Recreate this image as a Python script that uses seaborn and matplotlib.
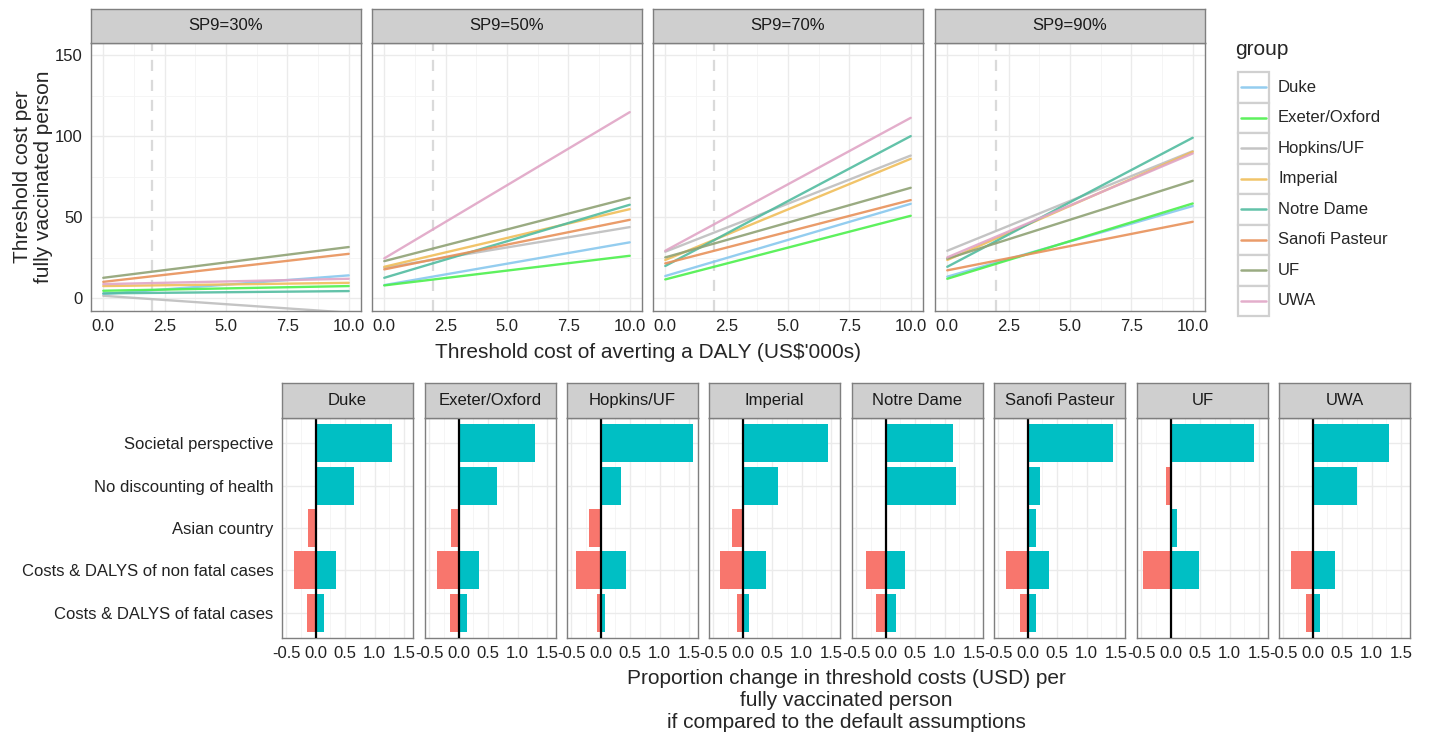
import numpy as np
import pandas as pd
import seaborn as sns
import matplotlib.pyplot as plt
from matplotlib.patches import Rectangle

# ---- data ----
groups = ["Duke", "Exeter/Oxford", "Hopkins/UF", "Imperial",
          "Notre Dame", "Sanofi Pasteur", "UF", "UWA"]
group_colors = ["#88C8EE", "#4CF04C", "#BEBEBE", "#F0BE5A",
                "#52BCA0", "#E8915A", "#8FA275", "#E0A5C6"]

sp9_labels = ["SP9=30%", "SP9=50%", "SP9=70%", "SP9=90%"]
daly_x = [0, 10]   # threshold cost of averting a DALY (US$'000s)

# threshold cost per fully vaccinated person at x = 0 and x = 10, in group order
sp30_start = [2.5, 4.5, 1.4, 7.4, 2.9, 10.0, 12.5, 8.6]
sp30_end = [14.0, 7.4, -9.0, 9.4, 4.3, 27.3, 31.5, 11.9]
sp50_start = [8.0, 7.8, 18.7, 19.3, 12.5, 17.7, 22.8, 24.5]
sp50_end = [34.4, 26.1, 43.8, 54.9, 57.6, 48.3, 61.9, 114.8]
sp70_start = [13.6, 11.5, 28.6, 23.5, 19.8, 21.4, 25.1, 29.2]
sp70_end = [58.2, 50.8, 88.0, 86.0, 100.0, 60.5, 68.1, 111.3]
sp90_start = [13.2, 11.9, 29.2, 23.5, 19.3, 17.1, 24.3, 25.1]
sp90_end = [56.8, 58.4, 90.7, 90.3, 99.0, 47.1, 72.4, 89.3]

scenarios = ["Societal perspective", "No discounting of health", "Asian country",
             "Costs & DALYS of non fatal cases", "Costs & DALYS of fatal cases"]
nan = np.nan
# proportion change (lower / upper bound) per scenario, in scenario order
duke_low = [nan, nan, -0.13, -0.36, -0.15]
duke_high = [1.30, 0.655, nan, 0.35, 0.14]
exeter_low = [nan, nan, -0.13, -0.36, -0.15]
exeter_high = [1.30, 0.645, nan, 0.345, 0.14]
hopkins_low = [nan, nan, -0.20, -0.425, -0.07]
hopkins_high = [1.56, 0.35, nan, 0.425, 0.075]
imperial_low = [nan, nan, -0.18, -0.39, -0.095]
imperial_high = [1.445, 0.60, nan, 0.39, 0.11]
notre_low = [nan, nan, nan, -0.325, -0.17]
notre_high = [1.15, 1.19, nan, 0.33, 0.17]
sanofi_low = [nan, nan, nan, -0.36, -0.13]
sanofi_high = [1.445, 0.215, 0.145, 0.37, 0.135]
uf_low = [nan, -0.075, nan, -0.475, nan]
uf_high = [1.42, nan, 0.11, 0.48, nan]
uwa_low = [nan, nan, nan, -0.37, -0.12]
uwa_high = [1.29, 0.75, nan, 0.375, 0.13]

top_start = [sp30_start, sp50_start, sp70_start, sp90_start]
top_end = [sp30_end, sp50_end, sp70_end, sp90_end]
bar_low = [duke_low, exeter_low, hopkins_low, imperial_low,
           notre_low, sanofi_low, uf_low, uwa_low]
bar_high = [duke_high, exeter_high, hopkins_high, imperial_high,
            notre_high, sanofi_high, uf_high, uwa_high]

# ---- style ----
sns.set_style("white")
plt.rcParams['font.family'] = ['Liberation Sans', 'DejaVu Sans']
plt.rcParams['axes.linewidth'] = 1.0

W, H = 1429, 736
fig = plt.figure(figsize=(W / 100, H / 100), dpi=100)


def px_rect(x0, y0, x1, y1):
    return [x0 / W, 1 - y1 / H, (x1 - x0) / W, (y1 - y0) / H]


border = "#7f7f7f"
tick_col = "#333333"


def add_strip(x0, x1, y0, y1, label):
    sax = fig.add_axes(px_rect(x0, y0, x1, y1))
    sax.set_facecolor("#CFCFCF")
    sax.set_xticks([])
    sax.set_yticks([])
    for s in sax.spines.values():
        s.set_color(border)
        s.set_linewidth(1.0)
    sax.text(0.5, 0.5, label, ha="center", va="center", fontsize=12,
             color="#1a1a1a", transform=sax.transAxes)


def style_panel(ax):
    ax.set_facecolor("white")
    for s in ax.spines.values():
        s.set_color(border)
        s.set_linewidth(1.0)
        s.set_visible(True)
    ax.grid(which="major", color="#EBEBEB", linewidth=1.0)
    ax.grid(which="minor", color="#F4F4F4", linewidth=0.6)
    ax.set_axisbelow(True)
    ax.tick_params(which="major", direction="out", length=4, width=1.2,
                   color=tick_col, labelsize=12, labelcolor="#222222", pad=2)
    ax.tick_params(which="minor", length=0)


# ---- top row: threshold cost lines ----
top_lefts = [91, 372, 653, 935]
for i, label in enumerate(sp9_labels):
    x0 = top_lefts[i]
    ax = fig.add_axes(px_rect(x0, 43, x0 + 270, 311))
    rows = []
    for g, s, e in zip(groups, top_start[i], top_end[i]):
        rows.append({"group": g, "daly": daly_x[0], "cost": s})
        rows.append({"group": g, "daly": daly_x[1], "cost": e})
    d = pd.DataFrame(rows)
    ax.axvline(2, color="#DADADA", linestyle=(0, (5, 4)), linewidth=1.6, zorder=1)
    sns.lineplot(data=d, x="daly", y="cost", hue="group", hue_order=groups,
                 palette=group_colors, linewidth=1.7, alpha=0.9,
                 legend=False, ax=ax)
    ax.set_xlim(-0.5, 10.5)
    ax.set_ylim(-8, 157.5)
    ax.set_xticks([0, 2.5, 5, 7.5, 10])
    ax.set_xticklabels(["0.0", "2.5", "5.0", "7.5", "10.0"])
    ax.set_xticks([1.25, 3.75, 6.25, 8.75], minor=True)
    ax.set_yticks([0, 50, 100, 150])
    ax.set_yticks([25, 75, 125], minor=True)
    style_panel(ax)
    if i == 0:
        ax.set_yticklabels(["0", "50", "100", "150"])
    else:
        ax.set_yticklabels([])
        ax.tick_params(axis="y", which="major", length=0)
    ax.set_xlabel("")
    ax.set_ylabel("")
    add_strip(x0, x0 + 270, 9, 43, label)

fig.text(33 / W, 1 - 177 / H, "Threshold cost per\nfully vaccinated person",
         rotation=90, ha="center", va="center", fontsize=15, linespacing=1.1)
fig.text(648 / W, 1 - 352 / H, "Threshold cost of averting a DALY (US\\$'000s)",
         ha="center", va="center", fontsize=15)

# ---- legend ----
lax = fig.add_axes(px_rect(1225, 30, 1429, 330))
lax.set_xlim(1225, 1429)
lax.set_ylim(330, 30)
lax.axis("off")
lax.text(1235, 49, "group", ha="left", va="center", fontsize=15)
key_top, key_h = 72, 30.5
for k, (g, c) in enumerate(zip(groups, group_colors)):
    y = key_top + k * key_h
    lax.add_patch(Rectangle((1238, y), 31, key_h, facecolor="white",
                            edgecolor="#D0D0D0", linewidth=1.6))
    lax.plot([1241, 1266], [y + key_h / 2] * 2, color=c, linewidth=1.8, alpha=0.9)
    lax.text(1278, y + key_h / 2, g, ha="left", va="center", fontsize=12)

# ---- bottom row: tornado bars ----
bottom_lefts = [282, 425, 567, 709, 852, 994, 1137, 1279]
for j, g in enumerate(groups):
    x0 = bottom_lefts[j]
    ax = fig.add_axes(px_rect(x0, 418, x0 + 131, 638))
    d = pd.DataFrame({
        "scenario": scenarios * 2,
        "change": list(bar_low[j]) + list(bar_high[j]),
        "side": ["low"] * len(scenarios) + ["high"] * len(scenarios),
    }).dropna()
    sns.barplot(data=d, x="change", y="scenario", hue="side", order=scenarios,
                hue_order=["low", "high"], palette=["#F8766D", "#00BFC4"],
                dodge=False, width=0.9, orient="h", legend=False, ax=ax,
                saturation=1, linewidth=0)
    ax.axvline(0, color="black", linewidth=1.6, zorder=5)
    ax.set_xlim(-0.57, 1.65)
    ax.set_ylim(len(scenarios) - 0.4, -0.6)
    ax.set_xticks([-0.5, 0, 0.5, 1.0, 1.5])
    ax.set_xticklabels(["-0.5", "0.0", "0.5", "1.0", "1.5"])
    ax.set_xticks([-0.25, 0.25, 0.75, 1.25], minor=True)
    style_panel(ax)
    ax.grid(axis="y", which="minor", visible=False)
    if j == 0:
        ax.tick_params(axis="y", labelsize=12)
    else:
        ax.set_yticklabels([])
        ax.tick_params(axis="y", which="major", length=0)
    ax.set_xlabel("")
    ax.set_ylabel("")
    add_strip(x0, x0 + 131, 383, 418, g)

fig.text(846 / W, 1 - 669 / H,
         "Proportion change in threshold costs (USD) per\nfully vaccinated person\n"
         "if compared to the default assumptions",
         ha="center", va="top", fontsize=15, linespacing=1.2)

fig.savefig("out.png", dpi=100)
